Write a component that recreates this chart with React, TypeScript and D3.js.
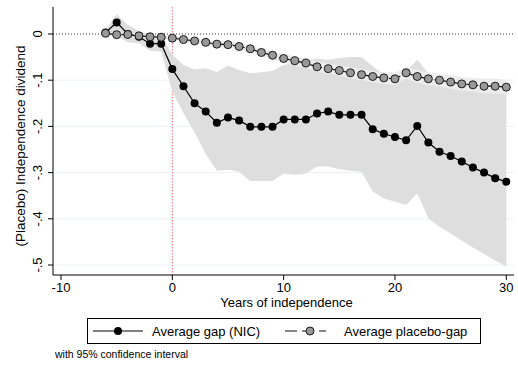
import React from "react";
import * as d3 from "d3";

// years relative to independence
const years = [-6, -5, -4, -3, -2, -1, 0, 1, 2, 3, 4, 5, 6, 7, 8, 9, 10, 11, 12, 13, 14, 15, 16, 17, 18, 19, 20, 21, 22, 23, 24, 25, 26, 27, 28, 29, 30];

// Average gap (NIC)
const gap = [0.003, 0.025, 0.0, -0.006, -0.021, -0.021, -0.076, -0.113, -0.150, -0.168, -0.192, -0.181, -0.187, -0.201, -0.201, -0.201, -0.185, -0.185, -0.185, -0.172, -0.168, -0.175, -0.175, -0.175, -0.206, -0.216, -0.223, -0.230, -0.199, -0.235, -0.255, -0.264, -0.276, -0.289, -0.300, -0.312, -0.320];
const gapHi = [0.008, 0.043, 0.02, 0.006, -0.002, -0.004, -0.045, -0.067, -0.077, -0.074, -0.082, -0.068, -0.078, -0.085, -0.083, -0.08, -0.067, -0.063, -0.058, -0.053, -0.056, -0.052, -0.05, -0.05, -0.07, -0.088, -0.09, -0.082, -0.056, -0.085, -0.09, -0.095, -0.1, -0.105, -0.11, -0.115, -0.12];
const gapLo = [-0.002, -0.005, -0.018, -0.02, -0.036, -0.038, -0.125, -0.171, -0.213, -0.26, -0.296, -0.294, -0.298, -0.318, -0.318, -0.318, -0.302, -0.305, -0.302, -0.287, -0.287, -0.293, -0.296, -0.298, -0.341, -0.356, -0.363, -0.37, -0.345, -0.399, -0.417, -0.432, -0.447, -0.462, -0.476, -0.49, -0.504];

// Average placebo-gap
const placebo = [0.0015, -0.0015, -0.001, -0.004, -0.006, -0.007, -0.009, -0.012, -0.015, -0.018, -0.022, -0.023, -0.027, -0.032, -0.040, -0.046, -0.053, -0.058, -0.063, -0.071, -0.075, -0.079, -0.084, -0.088, -0.092, -0.095, -0.097, -0.084, -0.092, -0.097, -0.100, -0.104, -0.108, -0.110, -0.113, -0.113, -0.115];
const placeboHi = [0.0045, 0.0015, 0.002, -0.001, -0.002, -0.003, -0.005, -0.007, -0.010, -0.012, -0.016, -0.016, -0.020, -0.024, -0.032, -0.037, -0.044, -0.048, -0.053, -0.060, -0.064, -0.068, -0.072, -0.076, -0.080, -0.082, -0.084, -0.071, -0.078, -0.083, -0.086, -0.089, -0.093, -0.095, -0.097, -0.097, -0.099];
const placeboLo = [-0.0015, -0.0045, -0.004, -0.007, -0.010, -0.011, -0.013, -0.017, -0.020, -0.024, -0.028, -0.030, -0.034, -0.040, -0.048, -0.055, -0.062, -0.068, -0.073, -0.082, -0.086, -0.090, -0.096, -0.100, -0.104, -0.108, -0.110, -0.097, -0.106, -0.111, -0.114, -0.119, -0.123, -0.125, -0.129, -0.129, -0.131];

const xTicks = [-10, 0, 10, 20, 30];
const yTicks = [0, -0.1, -0.2, -0.3, -0.4, -0.5];
const yTickLabels = ["0", "-.1", "-.2", "-.3", "-.4", "-.5"];

const font = "'Liberation Sans', Arial, Helvetica, sans-serif";

const App = () => {
  const width = 518;
  const height = 365;
  const x = d3.scaleLinear().domain([-10, 30]).range([61, 506.3]);
  const y = d3.scaleLinear().domain([0, -0.5]).range([34, 265]);
  const left = 53, right = 514, top = 7, bottom = 275;

  const rows = years.map((yr, i) => ({ yr, gap: gap[i], gHi: gapHi[i], gLo: gapLo[i], plc: placebo[i], pHi: placeboHi[i], pLo: placeboLo[i] }));

  const gapArea = d3.area().x(d => x(d.yr)).y0(d => y(d.gLo)).y1(d => y(d.gHi));
  const plcArea = d3.area().x(d => x(d.yr)).y0(d => y(d.pLo)).y1(d => y(d.pHi));
  const gapLine = d3.line().x(d => x(d.yr)).y(d => y(d.gap));
  const plcLine = d3.line().x(d => x(d.yr)).y(d => y(d.plc));

  return (
    <svg width={width} height={height} style={{ position: "absolute", left: 0, top: 0, background: "#fff" }} fontFamily={font}>
      {/* grid */}
      {yTicks.filter(t => t !== 0).map(t => (
        <line key={t} x1={left} x2={right} y1={y(t)} y2={y(t)} stroke="#eaf2f3" strokeWidth={1} />
      ))}
      {/* reference lines */}
      <line x1={left} x2={right} y1={y(0)} y2={y(0)} stroke="#333" strokeWidth={1} strokeDasharray="1,2" />
      <line x1={x(0)} x2={x(0)} y1={top} y2={bottom} stroke="#f07070" strokeWidth={1} strokeDasharray="1.5,1.5" />

      {/* confidence intervals */}
      <path d={gapArea(rows)} fill="#dedede" />
      <path d={plcArea(rows)} fill="#ececec" />

      {/* NIC gap */}
      <path d={gapLine(rows)} fill="none" stroke="#000" strokeWidth={1.2} />
      {rows.map(d => (
        <circle key={"g" + d.yr} cx={x(d.yr)} cy={y(d.gap)} r={4} fill="#000" />
      ))}

      {/* placebo gap */}
      <path d={plcLine(rows)} fill="none" stroke="#111" strokeWidth={1.2} strokeDasharray="12,4" />
      {rows.map(d => (
        <circle key={"p" + d.yr} cx={x(d.yr)} cy={y(d.plc)} r={4} fill="#999" stroke="#1a1a1a" strokeWidth={1} />
      ))}

      {/* y axis */}
      <line x1={left} x2={left} y1={top} y2={bottom} stroke="#000" strokeWidth={1} />
      {yTicks.map((t, i) => (
        <g key={t}>
          <line x1={left - 5} x2={left} y1={y(t)} y2={y(t)} stroke="#000" />
          <text transform={`translate(${left - 11},${y(t)}) rotate(-90)`} textAnchor="middle" fontSize={13} fill="#000">{yTickLabels[i]}</text>
        </g>
      ))}
      <text transform={`translate(25,${(top + bottom) / 2 + 5}) rotate(-90)`} textAnchor="middle" fontSize={13.5} fill="#000">(Placebo) Independence dividend</text>

      {/* x axis */}
      <line x1={left} x2={right} y1={bottom} y2={bottom} stroke="#000" strokeWidth={1} />
      {xTicks.map(t => (
        <g key={t}>
          <line x1={x(t)} x2={x(t)} y1={bottom} y2={bottom + 5} stroke="#000" />
          <text x={x(t)} y={bottom + 17} textAnchor="middle" fontSize={13} fill="#000">{t}</text>
        </g>
      ))}
      <text x={(left + right) / 2 + 3} y={307} textAnchor="middle" fontSize={13} fill="#000">Years of independence</text>

      {/* legend */}
      <rect x={87.5} y={318.5} width={393} height={25} fill="#fff" stroke="#000" strokeWidth={1} />
      <line x1={93} x2={143} y1={331} y2={331} stroke="#000" strokeWidth={1.2} />
      <circle cx={118} cy={331} r={4} fill="#000" />
      <text x={152} y={335.5} fontSize={13} fill="#000">Average gap (NIC)</text>
      <line x1={285} x2={326} y1={331} y2={331} stroke="#111" strokeWidth={1.2} strokeDasharray="12,5" />
      <circle cx={310} cy={331} r={4} fill="#999" stroke="#1a1a1a" strokeWidth={1} />
      <text x={344} y={335.5} fontSize={13} fill="#000">Average placebo-gap</text>

      <text x={55} y={358} fontSize={10.5} fill="#000">with 95% confidence interval</text>
    </svg>
  );
};

export default App;
